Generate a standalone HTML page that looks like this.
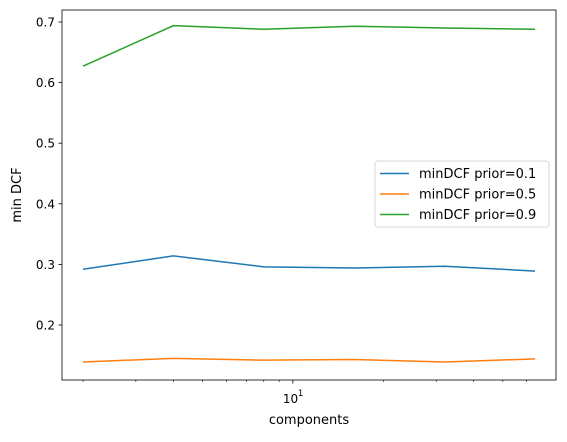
<!DOCTYPE html>
<html><head><meta charset="utf-8"><style>
body{margin:0;background:#fff;}
svg text{font-family:"DejaVu Sans","Liberation Sans",sans-serif;fill:#000;}
</style></head><body>
<svg id="chart" width="567" height="437" viewBox="0 0 567 437" xmlns="http://www.w3.org/2000/svg"></svg>
<script>
const components = [2, 4, 8, 16, 32, 64];
const prior01 = [0.292, 0.314, 0.296, 0.294, 0.297, 0.289];
const prior05 = [0.139, 0.145, 0.142, 0.143, 0.139, 0.144];
const prior09 = [0.627, 0.694, 0.688, 0.693, 0.690, 0.688];
const yTicks = [0.2, 0.3, 0.4, 0.5, 0.6, 0.7];
const yTickLabels = ["0.2", "0.3", "0.4", "0.5", "0.6", "0.7"];
const seriesNames = ["minDCF prior=0.1", "minDCF prior=0.5", "minDCF prior=0.9"];
const colors = ["#1f77b4", "#ff7f0e", "#2ca02c"];

const L=62,R=556,T=10,B=380;
const xmin=Math.log2(2)-0.232, xmax=Math.log2(64)+0.232;
const X=v=>L+(Math.log2(v)-xmin)/(xmax-xmin)*(R-L);
const Y=v=>325-(v-0.2)*606;
const svg=document.getElementById('chart');
const NS='http://www.w3.org/2000/svg';
function mk(tag,attrs,parent){const e=document.createElementNS(NS,tag);for(const k in attrs)e.setAttribute(k,attrs[k]);(parent||svg).appendChild(e);return e;}

yTicks.forEach((v,i)=>{
  const g=mk('g',{});
  
  
  mk('line',{x1:L-3.5,x2:L,y1:Y(v),y2:Y(v),stroke:'#000','stroke-width':0.8},g);
  const t=mk('text',{x:L-7,y:Y(v)+4.5,'text-anchor':'end','font-size':12},g);
  t.textContent=yTickLabels[i];
});
[2,3,4,5,6,7,8,9,20,30,40,50,60].forEach(v=>{
  const l=mk('line',{x1:X(v),x2:X(v),y1:B,y2:B+2,stroke:'#000','stroke-width':0.6});
  
  
});
const gx=mk('g',{});


mk('line',{x1:X(10),x2:X(10),y1:B,y2:B+3.5,stroke:'#000','stroke-width':0.8},gx);
const tx=mk('text',{x:X(10)-10,y:B+23,'font-size':12},gx);
tx.textContent='10';
const sup=mk('text',{x:X(10)+5,y:B+16,'font-size':8.5},gx);
sup.textContent='1';

[prior01,prior05,prior09].forEach((arr,i)=>{
  const p=mk('polyline',{points:arr.map((v,j)=>X(components[j])+','+Y(v)).join(' '),fill:'none',stroke:colors[i],'stroke-width':1.5});
  
  
});

const fr=mk('rect',{x:L,y:T,width:R-L,height:B-T,fill:'none',stroke:'#000','stroke-width':0.8});



const xl=mk('text',{x:(L+R)/2,y:424,'text-anchor':'middle','font-size':13});


xl.textContent='components';
const yl=mk('text',{x:0,y:0,'text-anchor':'middle','font-size':13,transform:'translate(21,195) rotate(-90)'});


yl.textContent='min DCF';

const lg=mk('g',{});


mk('rect',{x:375,y:161,width:174,height:66,rx:3,fill:'#fff','fill-opacity':0.8,stroke:'#ccc','stroke-width':0.8},lg);
seriesNames.forEach((n,i)=>{
  const e=mk('g',{},lg);
  
  
  const y=173.5+i*20.5;
  mk('line',{x1:380,x2:409,y1:y,y2:y,stroke:colors[i],'stroke-width':1.5},e);
  const t=mk('text',{x:419,y:y+4.5,'font-size':13},e);
  t.textContent=n;
});
</script>
</body></html>
